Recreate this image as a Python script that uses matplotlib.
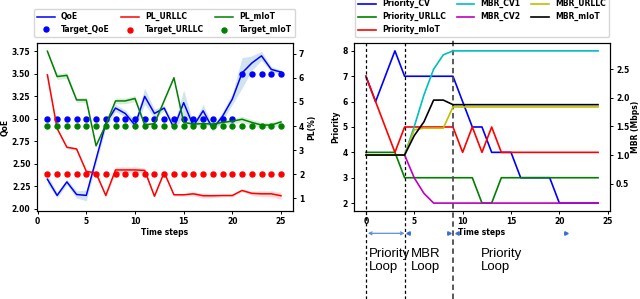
import numpy as np
from matplotlib import pyplot as plt
from matplotlib import transforms

# left panel data (t = 1..25)
steps = list(range(1, 26))
qoe = [2.33, 2.15, 2.30, 2.16, 2.15, 2.55, 2.95, 3.12, 3.06, 2.93, 3.25, 3.06, 3.12,
       2.90, 3.18, 2.92, 3.09, 2.89, 3.03, 3.22, 3.51, 3.62, 3.70, 3.55, 3.52]
qoe_err = [0.05, 0.03, 0.03, 0.04, 0.06, 0.05, 0.05, 0.04, 0.04, 0.05, 0.09, 0.05, 0.03,
           0.04, 0.14, 0.03, 0.07, 0.03, 0.05, 0.06, 0.17, 0.08, 0.05, 0.03, 0.02]
target_qoe = [3.0, 3.0, 3.0, 3.0, 3.0, 3.0, 3.0, 3.0, 3.0, 3.0, 3.0, 3.0, 3.0,
              3.0, 3.0, 3.0, 3.0, 3.0, 3.0, 3.0, 3.5, 3.5, 3.5, 3.5, 3.5]
pl_urllc = [6.12, 3.90, 3.12, 3.05, 2.12, 2.05, 1.12, 2.18, 2.18, 2.18, 2.16, 1.09, 2.08,
            1.15, 1.15, 1.19, 1.11, 1.11, 1.12, 1.12, 1.33, 1.21, 1.19, 1.19, 1.11]
pl_urllc_err = [0.15, 0.05, 0.05, 0.05, 0.05, 0.10, 0.05, 0.12, 0.12, 0.12, 0.10, 0.05, 0.05,
                0.05, 0.05, 0.08, 0.10, 0.08, 0.05, 0.05, 0.05, 0.08, 0.12, 0.12, 0.15]
target_urllc = [2.0, 2.0, 2.0, 2.0, 2.0, 2.0, 2.0, 2.0, 2.0, 2.0, 2.0, 2.0, 2.0,
                2.0, 2.0, 2.0, 2.0, 2.0, 2.0, 2.0, 2.0, 2.0, 2.0, 2.0, 2.0]
pl_miot = [7.10, 6.05, 6.10, 5.08, 5.08, 3.18, 4.05, 5.04, 5.04, 5.14, 4.05, 4.10, 5.05,
           6.00, 4.15, 4.08, 4.10, 4.08, 4.15, 4.20, 4.28, 4.15, 4.04, 4.04, 4.17]
pl_miot_err = [0.05, 0.12, 0.12, 0.10, 0.10, 0.05, 0.05, 0.12, 0.12, 0.12, 0.05, 0.05, 0.05,
               0.05, 0.05, 0.08, 0.08, 0.08, 0.08, 0.10, 0.12, 0.12, 0.12, 0.12, 0.08]
target_miot = [4.0, 4.0, 4.0, 4.0, 4.0, 4.0, 4.0, 4.0, 4.0, 4.0, 4.0, 4.0, 4.0,
               4.0, 4.0, 4.0, 4.0, 4.0, 4.0, 4.0, 4.0, 4.0, 4.0, 4.0, 4.0]

# right panel data (t = 0..24)
steps2 = list(range(0, 25))
prio_cv = [7, 6, 7, 8, 7, 7, 7, 7, 7, 7, 6, 5, 5, 4, 4, 4, 3, 3, 3, 3, 2, 2, 2, 2, 2]
prio_urllc = [4, 4, 4, 4, 3, 3, 3, 3, 3, 3, 3, 3, 2, 2, 3, 3, 3, 3, 3, 3, 3, 3, 3, 3, 3]
prio_miot = [7, 6, 5, 4, 5, 5, 5, 5, 5, 5, 4, 5, 4, 5, 4, 4, 4, 4, 4, 4, 4, 4, 4, 4, 4]
mbr_cv1 = [1.0, 1.0, 1.0, 1.0, 1.0, 1.5, 2.05, 2.5, 2.75, 2.82, 2.82, 2.82, 2.82,
           2.82, 2.82, 2.82, 2.82, 2.82, 2.82, 2.82, 2.82, 2.82, 2.82, 2.82, 2.82]
mbr_cv2 = [1.0, 1.0, 1.0, 1.0, 1.0, 0.6, 0.33, 0.16, 0.16, 0.16, 0.16, 0.16, 0.16,
           0.16, 0.16, 0.16, 0.16, 0.16, 0.16, 0.16, 0.16, 0.16, 0.16, 0.16, 0.16]
mbr_urllc = [1.0, 1.0, 1.0, 1.0, 1.0, 1.44, 1.47, 1.47, 1.47, 1.84, 1.84, 1.84, 1.84,
             1.84, 1.84, 1.84, 1.84, 1.84, 1.84, 1.84, 1.84, 1.84, 1.84, 1.84, 1.84]
mbr_miot = [1.0, 1.0, 1.0, 1.0, 1.0, 1.34, 1.58, 1.96, 1.96, 1.88, 1.88, 1.88, 1.88,
            1.88, 1.88, 1.88, 1.88, 1.88, 1.88, 1.88, 1.88, 1.88, 1.88, 1.88, 1.88]

loop_lines = [0, 4, 9]
loop_names = ["Priority\nLoop", "MBR\nLoop", "Priority\nLoop"]
loop_text_x = [0.3, 4.6, 11.9]

plt.rcParams['font.family'] = ['DejaVu Sans']
plt.rcParams['font.weight'] = 'bold'
plt.rcParams['axes.labelweight'] = 'bold'
plt.rcParams['font.size'] = 5.5

fig = plt.figure(figsize=(6.4, 2.99), dpi=100)

# ---- left: QoE and packet loss
ax = fig.add_axes([0.0573, 0.2953, 0.4, 0.56])
axr = ax.twinx()
lw = 1.1
q_lo = np.array(qoe) - np.array(qoe_err)
q_hi = np.array(qoe) + np.array(qoe_err)
ax.fill_between(steps, q_lo, q_hi, color='C0', alpha=0.2, lw=0)
h1, = ax.plot(steps, qoe, color='blue', lw=lw, label='QoE')
h2, = ax.plot(steps, target_qoe, 'o', color='blue', ms=3.6, label='Target_QoE')

u = np.array(pl_urllc)
ue = np.array(pl_urllc_err)
axr.fill_between(steps, u - ue, u + ue, color='red', alpha=0.15, lw=0)
h3, = axr.plot(steps, pl_urllc, color='red', lw=lw, label='PL_URLLC')
h4, = axr.plot(steps, target_urllc, 'o', color='red', ms=3.6, label='Target_URLLC')
m = np.array(pl_miot)
me = np.array(pl_miot_err)
axr.fill_between(steps, m - me, m + me, color='green', alpha=0.15, lw=0)
h5, = axr.plot(steps, pl_miot, color='green', lw=lw, label='PL_mIoT')
h6, = axr.plot(steps, target_miot, 'o', color='green', ms=3.6, label='Target_mIoT')

ax.set_xlim(-0.1, 26.2)
ax.set_ylim(1.98, 3.84)
axr.set_ylim(0.49, 7.43)
ax.set_xticks([0, 5, 10, 15, 20, 25])
ax.set_yticks([2.0, 2.25, 2.5, 2.75, 3.0, 3.25, 3.5, 3.75])
axr.set_yticks([1, 2, 3, 4, 5, 6, 7])
ax.set_xlabel('Time steps', labelpad=1.5)
ax.set_ylabel('QoE', labelpad=1.5)
axr.set_ylabel('PL(%)', labelpad=2)
for a in (ax, axr):
    a.tick_params(length=2.5, width=0.7, pad=2)
ax.legend(handles=[h1, h2, h3, h4, h5, h6], ncol=3, loc='lower center',
          bbox_to_anchor=(0.5, 1.035), fontsize=5.5, borderaxespad=0,
          columnspacing=1.5, handlelength=2.3)

# ---- right: priorities and MBR
bx = fig.add_axes([0.5536, 0.2953, 0.399, 0.56])
bxr = bx.twinx()
lw2 = 1.2
g1, = bx.plot(steps2, prio_cv, color='blue', lw=lw2, label='Priority_CV')
g2, = bx.plot(steps2, prio_urllc, color='green', lw=lw2, label='Priority_URLLC')
g3, = bx.plot(steps2, prio_miot, color='red', lw=lw2, label='Priority_mIoT')
g4, = bxr.plot(steps2, mbr_cv1, color='c', lw=lw2, label='MBR_CV1')
g5, = bxr.plot(steps2, mbr_cv2, color='m', lw=lw2, label='MBR_CV2')
g6, = bxr.plot(steps2, mbr_urllc, color='y', lw=lw2, label='MBR_URLLC')
g7, = bxr.plot(steps2, mbr_miot, color='k', lw=lw2, label='MBR_mIoT')

bx.set_xticks([0, 5, 10, 15, 20, 25])
bx.set_yticks([2, 3, 4, 5, 6, 7, 8])
bxr.set_yticks([0.5, 1.0, 1.5, 2.0, 2.5])
bx.set_xlabel('Time steps', labelpad=1.5)
bx.set_ylabel('Priority', labelpad=2)
bxr.set_ylabel('MBR (Mbps)', labelpad=1.5)
for a in (bx, bxr):
    a.tick_params(length=2.5, width=0.7, pad=2)
bx.legend(handles=[g1, g2, g3, g4, g5, g6, g7], ncol=3, loc='lower center',
          bbox_to_anchor=(0.5, 1.035), fontsize=5.5, borderaxespad=0,
          columnspacing=1.4, handlelength=2.3)

# loop markers below the right panel
trans = transforms.blended_transform_factory(bx.transData, bx.transAxes)
for i, x in enumerate(loop_lines):
    if i < 2:
        bx.plot([x, x], [-0.53, 1.0], transform=trans, color='k', ls='--',
                lw=0.9, dashes=(2.5, 2), clip_on=False, zorder=5)
    else:
        bx.plot([x, x], [-0.53, 1.03], transform=trans, color='0.3', ls='--',
                lw=1.3, dashes=(3, 2), clip_on=False, zorder=5)

arrow_y = -0.135
bx.annotate('', xy=(4.0, arrow_y), xytext=(0.2, arrow_y), xycoords=trans,
            textcoords=trans, annotation_clip=False,
            arrowprops=dict(arrowstyle='<->', color='#5b8fd8', lw=0.9,
                            mutation_scale=5, shrinkA=0, shrinkB=0))
bx.plot([4.4, 9.4], [arrow_y, arrow_y], '<', transform=trans, color='#3a6fd0',
        ms=2.5, clip_on=False)
bx.plot([8.6, 20.7], [arrow_y, arrow_y], '>', transform=trans, color='#3a6fd0',
        ms=2.5, clip_on=False)

for x, name in zip(loop_text_x, loop_names):
    bx.text(x, -0.22, name, transform=trans, ha='left', va='top',
            fontsize=9.5, fontweight='normal', family=['Liberation Sans'],
            linespacing=1.15)

fig.savefig('out.png', dpi=100)
